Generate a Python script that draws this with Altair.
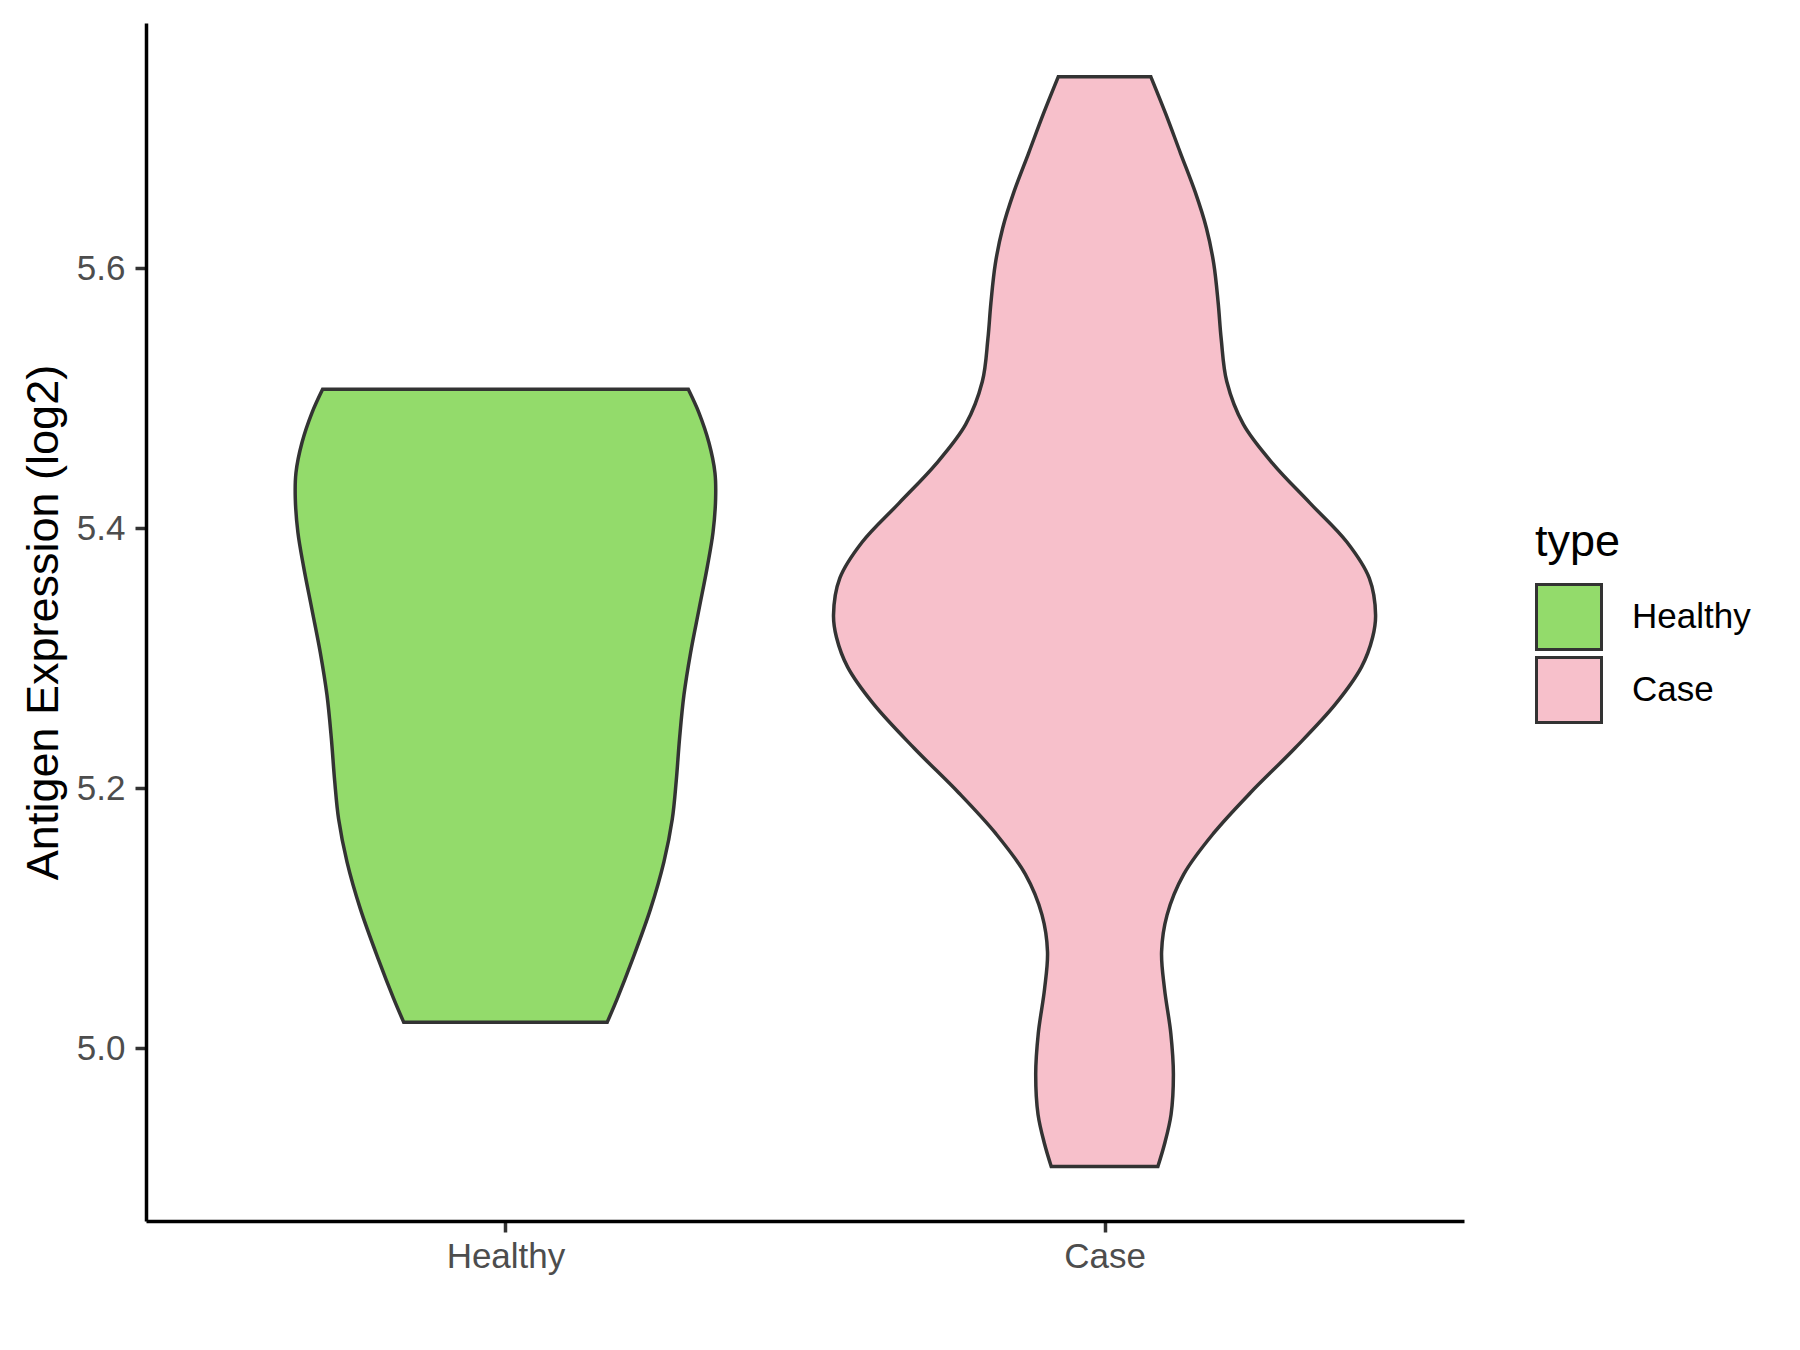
import json
import altair as alt
import pandas as pd

# ---- data ----
categories = ["Healthy", "Case"]
colors = ["#93DB6B", "#F7C0CB"]

healthy_y = [5.5068, 5.4887, 5.4657, 5.4426, 5.4229, 5.3966, 5.3703, 5.3375, 5.3045,
             5.2717, 5.2388, 5.2059, 5.1764, 5.1435, 5.1073, 5.0679, 5.0383, 5.0202]
healthy_w = [0.3052, 0.3230, 0.3397, 0.3497, 0.3508, 0.3464, 0.3369, 0.3230, 0.3091,
             0.2979, 0.2907, 0.2851, 0.2785, 0.2645, 0.2422, 0.2116, 0.1866, 0.1699]

case_y = [5.7471, 5.7188, 5.6885, 5.6584, 5.6309, 5.6034, 5.5732, 5.5457, 5.5128, 5.4798,
          5.4495, 5.4193, 5.3892, 5.3616, 5.3332, 5.3162, 5.2934, 5.2649, 5.2308, 5.1966,
          5.1653, 5.1340, 5.1027, 5.0742, 5.0458, 5.0116, 4.9803, 4.9491, 4.9263, 4.9092]
case_w = [0.0773, 0.1020, 0.1267, 0.1514, 0.1700, 0.1823, 0.1897, 0.1947, 0.2040, 0.2318,
          0.2812, 0.3430, 0.4048, 0.4419, 0.4524, 0.4475, 0.4290, 0.3857, 0.3177, 0.2435,
          0.1817, 0.1323, 0.1044, 0.0952, 0.1001, 0.1106, 0.1149, 0.1110, 0.1000, 0.0890]

y_ticks = [5.0, 5.2, 5.4, 5.6]
y_title = "Antigen Expression (log2)"
legend_title = "type"

# ---- build table ----
rows = []
for i, (name, ys, ws) in enumerate([("Healthy", healthy_y, healthy_w), ("Case", case_y, case_w)]):
    pos = i + 1
    for yv, wv in zip(ys, ws):
        rows.append({"type": name, "y": yv, "lo": pos - wv, "hi": pos + wv})
df = pd.DataFrame(rows)

FONT = "Liberation Sans"
label_expr = json.dumps(categories) + "[datum.value - 1]"

chart = alt.Chart(df).mark_area(
    orient="horizontal",
    interpolate="catmull-rom",
    stroke="#333333",
    strokeWidth=3.5,
    opacity=1,
).encode(
    y=alt.Y(
        "y:Q",
        scale=alt.Scale(domain=[4.8673, 5.7885], nice=False, zero=False),
        axis=alt.Axis(
            values=y_ticks, format=".1f", grid=False,
            domainColor="black", domainWidth=3.5,
            tickColor="#333333", tickWidth=3.5, tickSize=11,
            labelFontSize=35, labelColor="#4D4D4D", labelFont=FONT, labelPadding=10,
            title=y_title, titleFontSize=45, titleFont=FONT, titleColor="black",
            titleFontWeight="normal", titleX=-80, titleY=599, titleAngle=270,
            titleBaseline="bottom", titleAlign="center",
        ),
    ),
    x=alt.X(
        "lo:Q",
        title="",
        scale=alt.Scale(domain=[0.4, 2.6], nice=False, zero=False),
        axis=alt.Axis(
            values=[1, 2], labelExpr=label_expr, grid=False,
            domainColor="black", domainWidth=3.5,
            tickColor="#333333", tickWidth=3.5, tickSize=11,
            labelFontSize=35, labelColor="#4D4D4D", labelFont=FONT, labelPadding=7,
            labelFlush=False,
        ),
    ),
    x2="hi:Q",
    fill=alt.Fill(
        "type:N",
        scale=alt.Scale(domain=categories, range=colors),
        legend=alt.Legend(
            title=legend_title, orient="none", legendX=1389, legendY=497,
            symbolType="square", symbolSize=4225,
            symbolStrokeColor="#333333", symbolStrokeWidth=3, symbolOpacity=1,
            labelFontSize=35, labelFont=FONT, labelColor="black", labelOffset=29,
            titleFontSize=45, titleFont=FONT, titleColor="black",
            titleFontWeight="normal", titlePadding=18, rowPadding=-5, padding=0,
        ),
    ),
).properties(
    width=1318,
    height=1198,
    autosize=alt.AutoSizeParams(type="none"),
    padding={"left": 138, "top": 15, "right": 320, "bottom": 110},
).configure(
    font=FONT,
).configure_view(
    stroke="transparent",
)

chart.save("out.html", embed_options={"renderer": "svg", "actions": False})
